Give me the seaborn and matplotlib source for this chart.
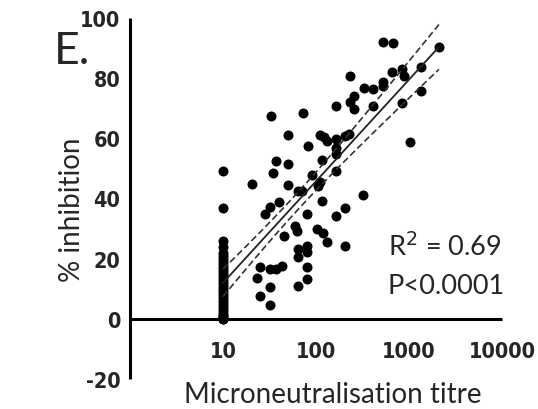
import numpy as np
import pandas as pd
import matplotlib
matplotlib.use("Agg")
import matplotlib.pyplot as plt
import seaborn as sns
from matplotlib import font_manager

# ---------------- data ----------------
titre_10_inhibition = [0, 0, 1, 1, 2, 3, 4, 5, 6, 7, 8, 9, 10, 11, 12, 13, 14,
                       15, 16, 17, 18, 19, 20, 21, 22, 24, 26, 37, 49]
titre_other = [37.2, 50.0, 34.5, 20.5, 50.0, 40.0, 32.0, 28.3, 63.7, 59.3,
               62.1, 45.2, 25.0, 32.0, 37.2, 43.2, 23.2, 32.0, 25.0, 32.0,
               63.7, 63.7, 63.7, 79.9, 79.9, 79.9, 79.9, 79.9, 70.9, 102,
               118.8, 130, 205, 116, 205, 163, 320, 105, 110, 90,
               116, 163, 163, 163, 82, 110, 122, 130, 163, 205,
               226, 50, 72.5, 32.8, 163, 232, 256, 256, 232, 328,
               410, 410, 525, 525, 525, 670, 2100, 1345, 840, 880,
               650, 1345, 840, 1025]
inhib_other = [52.5, 51.5, 48.5, 44.9, 44.5, 38.9, 37.2, 34.9, 42.5, 30.9,
               29.2, 27.6, 17.3, 16.6, 16.6, 17.6, 13.6, 10.6, 7.6, 4.7,
               23.3, 20.6, 11.0, 24.3, 22.3, 17.3, 13.3, 34.9, 42.5, 29.9,
               28.6, 25.6, 24.3, 39.2, 36.9, 34.2, 41.2, 44.2, 45.5, 47.8,
               52.8, 49.2, 54.8, 56.8, 57.5, 61.1, 60.5, 59.1, 59.8, 60.8,
               61.5, 61.1, 68.4, 67.4, 70.8, 72.1, 74.1, 69.8, 80.7, 76.7,
               76.4, 70.8, 78.7, 77.4, 92.0, 91.7, 90.4, 83.7, 83.0, 80.7,
               82.0, 75.7, 71.8, 58.8]
x_ticks = [10, 100, 1000, 10000]
x_tick_labels = ["10", "100", "1000", "10000"]
y_ticks = [-20, 0, 20, 40, 60, 80, 100]
panel_label = "E."
x_label = "Microneutralisation titre"
y_label = "% inhibition"
stats_r2 = "R$^2$ = 0.69"
stats_p = "P<0.0001"

titre = np.array([10.0] * len(titre_10_inhibition) + titre_other)
inhib = np.array(titre_10_inhibition + inhib_other, dtype=float)
df = pd.DataFrame({"titre": titre, "inhibition": inhib})

# ---------------- fonts ----------------
entries = font_manager.fontManager.ttflist
names = {f.name for f in entries}
narrow = [f for f in entries if ("Narrow" in f.name or "Condensed" in f.name
                                 or "Narrow" in f.fname or "Condensed" in f.fname)]
tick_fp = None
for f in narrow:
    if "Liberation" in f.name and f.weight in (700, "bold"):
        tick_fp = font_manager.FontProperties(fname=f.fname)
        break
if tick_fp is None:
    for f in narrow:
        if "Bold" in f.fname and "Oblique" not in f.fname and "Italic" not in f.fname:
            tick_fp = font_manager.FontProperties(fname=f.fname)
            break
if tick_fp is None:
    tick_fp = font_manager.FontProperties(family="Roboto", weight="bold")
text_font = "Lato" if "Lato" in names else "DejaVu Sans"

sns.set_style("white")
plt.rcParams["font.family"] = [text_font, "DejaVu Sans"]

fig = plt.figure(figsize=(5.38, 4.10), dpi=100)
ax = fig.add_axes([0.2416, 0.0732, 0.6914, 0.8805])

# ---------------- linear regression on log10(titre) ----------------
lx = np.log10(df["titre"].values)
yv = df["inhibition"].values
n = len(lx)
b, a = np.polyfit(lx, yv, 1)
resid = yv - (a + b * lx)
s = np.sqrt(np.sum(resid ** 2) / (n - 2))
xm = lx.mean()
sxx = np.sum((lx - xm) ** 2)
tval = 1.99
gx = np.linspace(lx.min(), lx.max(), 200)
gy = a + b * gx
se = s * np.sqrt(1.0 / n + (gx - xm) ** 2 / sxx)
fit = pd.DataFrame({"titre": 10 ** gx, "fit": gy,
                    "lo": gy - tval * se, "hi": gy + tval * se})

sns.scatterplot(data=df, x="titre", y="inhibition", ax=ax, color="black",
                s=52, edgecolor="black", linewidth=0, zorder=3, clip_on=False)
sns.lineplot(data=fit, x="titre", y="fit", ax=ax, color="#222222", lw=1.3,
             zorder=4)
sns.lineplot(data=fit, x="titre", y="lo", ax=ax, color="#333333", lw=1.2,
             ls=(0, (4, 2)), zorder=4)
sns.lineplot(data=fit, x="titre", y="hi", ax=ax, color="#333333", lw=1.2,
             ls=(0, (4, 2)), zorder=4)

ax.set_xscale("log")
ax.set_xlim(1, 10000)
ax.set_ylim(-20, 100)
ax.set_xticks(x_ticks)
ax.set_xticklabels(x_tick_labels)
ax.xaxis.set_minor_locator(matplotlib.ticker.NullLocator())
ax.set_yticks(y_ticks)
ax.set_yticklabels([str(v) for v in y_ticks])
ax.set_xlabel("")
ax.set_ylabel("")

for side in ["top", "right"]:
    ax.spines[side].set_visible(False)
ax.spines["bottom"].set_position(("data", 0))
for side in ["left", "bottom"]:
    ax.spines[side].set_linewidth(2.2)
    ax.spines[side].set_color("black")
    ax.spines[side].set_capstyle("butt")

ax.tick_params(axis="both", which="major", direction="out", length=6,
               width=2.0, color="black")
ax.tick_params(axis="y", pad=1)
ax.tick_params(axis="x", pad=10)
for lab in ax.get_xticklabels() + ax.get_yticklabels():
    lab.set_fontproperties(tick_fp)
    lab.set_fontweight("bold")
    lab.set_fontsize(15.5)

fig.text(72 / 538, 1 - 52 / 410, panel_label, fontsize=32, ha="center",
         va="center")
fig.text(333 / 538, 1 - 395 / 410, x_label, fontsize=20, ha="center",
         va="center")
fig.text(72 / 538, 1 - 210 / 410, y_label, fontsize=20, ha="center",
         va="center", rotation=90)
fig.text(388 / 538, 1 - 247 / 410, stats_r2, fontsize=19.5, ha="left",
         va="center")
fig.text(388 / 538, 1 - 287 / 410, stats_p, fontsize=19.5, ha="left",
         va="center")

fig.savefig("out.png", dpi=100)
